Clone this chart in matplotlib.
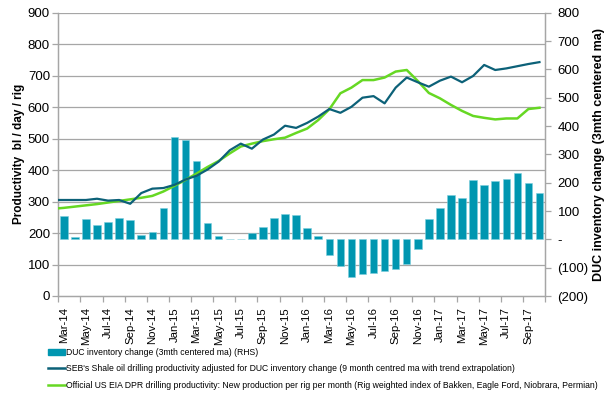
import matplotlib
matplotlib.use('Agg')
import matplotlib.pyplot as plt
import numpy as np
from matplotlib.patches import Patch
from matplotlib.lines import Line2D
from matplotlib.ticker import FixedLocator, FuncFormatter

plt.rcParams['font.family'] = ['Liberation Sans', 'DejaVu Sans']

months = ['Mar-14', 'Apr-14', 'May-14', 'Jun-14', 'Jul-14', 'Aug-14', 'Sep-14', 'Oct-14', 'Nov-14', 'Dec-14',
          'Jan-15', 'Feb-15', 'Mar-15', 'Apr-15', 'May-15', 'Jun-15', 'Jul-15', 'Aug-15', 'Sep-15', 'Oct-15',
          'Nov-15', 'Dec-15', 'Jan-16', 'Feb-16', 'Mar-16', 'Apr-16', 'May-16', 'Jun-16', 'Jul-16', 'Aug-16',
          'Sep-16', 'Oct-16', 'Nov-16', 'Dec-16', 'Jan-17', 'Feb-17', 'Mar-17', 'Apr-17', 'May-17', 'Jun-17',
          'Jul-17', 'Aug-17', 'Sep-17', 'Oct-17']

# DUC inventory change (RHS), Mar-14 .. Oct-17
duc = [84, 7, 72, 49, 60, 74, 67, 15, 27, 111,
       360, 349, 275, 57, 13, 1, 1, 24, 42, 76,
       90, 85, 41, 12, -57, -93, -133, -122, -118, -110,
       -106, -86, -33, 73, 111, 157, 147, 208, 191, 207,
       213, 235, 200, 165]

# Line series start one month earlier (Feb-14), partly clipped at the axis
line_months = ['Feb-14'] + months
seb = [305, 305, 305, 305, 309, 303, 305, 293, 327, 341, 343,
       353, 370, 382, 402, 427, 463, 484, 468, 497, 513,
       541, 534, 550, 570, 594, 582, 601, 630, 635, 612,
       662, 694, 679, 665, 684, 697, 679, 699, 734, 718,
       723, 730, 737, 743]
eia = [277, 280, 284, 288, 292, 297, 302, 307, 312, 318, 332,
       350, 369, 389, 410, 429, 453, 475, 484, 492, 498,
       503, 518, 532, 559, 593, 644, 662, 686, 686, 694,
       713, 718, 683, 645, 628, 607, 588, 572, 566, 561,
       564, 564, 594, 598]

bar_color = '#0096b0'
seb_color = '#0c6178'
eia_color = '#66d823'
grid_color = '#a6a6a6'

fig = plt.figure(figsize=(6.13, 3.99), dpi=100)
ax = fig.add_axes([58.3 / 613, 1 - 296 / 399, (545 - 58.3) / 613, (296 - 12.7) / 399])
ax2 = ax.twinx()

n = len(months)
x = np.arange(n)
xl = np.arange(len(line_months)) - 1

ax.set_zorder(2)
ax.patch.set_visible(False)
ax2.set_zorder(1)

ax2.bar(x, duc, width=0.68, color=bar_color, edgecolor='#7ccfdd', linewidth=0.4, zorder=3)
ax.plot(xl, seb, color=seb_color, lw=1.6, zorder=4, solid_joinstyle='round')
ax.plot(xl, eia, color=eia_color, lw=1.8, zorder=3, solid_joinstyle='round')

ax.set_xlim(-0.5, n - 0.5)
ax.set_ylim(0, 900)
ax2.set_ylim(-200, 800)

ax.set_yticks(np.arange(0, 901, 100))
ax2.set_yticks(np.arange(-200, 801, 100))

def rfmt(v, pos):
    v = int(round(v))
    if v < 0:
        return '(%d)' % (-v)
    if v == 0:
        return '-'
    return '%d' % v

ax2.yaxis.set_major_formatter(FuncFormatter(rfmt))

for v in np.arange(100, 901, 100):
    ax2.axhline((v / 900) * 1000 - 200, color=grid_color, lw=0.9, zorder=0)

ax.xaxis.set_major_locator(FixedLocator(np.arange(-0.5, n, 2)))
ax.xaxis.set_minor_locator(FixedLocator(np.arange(0, n, 2)))
ax.set_xticklabels([])
ax.set_xticklabels([months[i] for i in range(0, n, 2)], minor=True, rotation=90, fontsize=8.2)
ax.tick_params(axis='x', which='major', length=4, color=grid_color, width=0.9)
ax.tick_params(axis='x', which='minor', length=0, pad=8)

ax.tick_params(axis='y', labelsize=9.5, length=4, color=grid_color, width=0.9, pad=2)
ax2.tick_params(axis='y', labelsize=9.5, length=4, color=grid_color, width=0.9, pad=5)

for a in (ax, ax2):
    a.spines['top'].set_visible(False)
    for s in ('left', 'right', 'bottom'):
        a.spines[s].set_color(grid_color)
        a.spines[s].set_linewidth(0.9)

ax.set_ylabel('Productivity  bl / day / rig', fontsize=8.5, fontweight='bold', labelpad=2)
ax2.set_ylabel('DUC inventory change (3mth centered ma)', fontsize=9, fontweight='bold', labelpad=3)

handles = [Patch(facecolor=bar_color, edgecolor=bar_color),
           Line2D([0], [0], color=seb_color, lw=1.8),
           Line2D([0], [0], color=eia_color, lw=1.8)]
labels = ['DUC inventory change (3mth centered ma) (RHS)',
          "SEB's Shale oil drilling productivity adjusted for DUC inventory change (9 month centred ma with trend extrapolation)",
          'Official US EIA DPR drilling productivity: New production per rig per month (Rig weighted index of Bakken, Eagle Ford, Niobrara, Permian)']
fig.legend(handles, labels, loc='upper left', bbox_to_anchor=(48 / 613, 1 - 348 / 399),
           frameon=False, fontsize=6.2, handlelength=2.0, handleheight=0.6, handletextpad=0.1,
           labelspacing=0.85, borderaxespad=0, borderpad=0)

fig.savefig('out.png', dpi=100)
